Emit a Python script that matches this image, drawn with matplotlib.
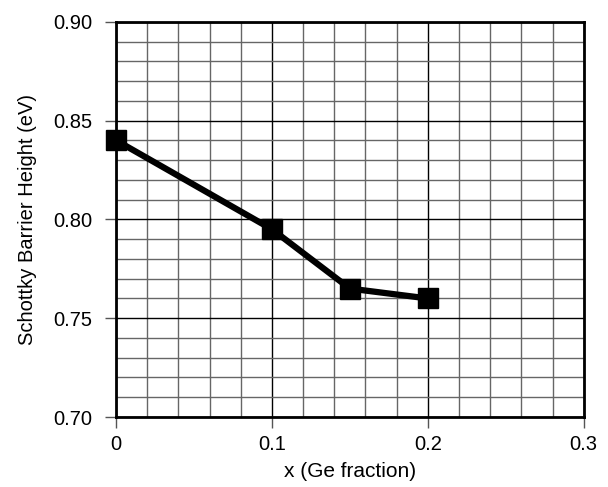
import matplotlib
matplotlib.use("Agg")
import matplotlib.pyplot as plt
import numpy as np

x_vals = [0.0, 0.1, 0.15, 0.2]
y_vals = [0.840, 0.795, 0.765, 0.760]
x_ticks = [0, 0.1, 0.2, 0.3]
x_tick_labels = ["0", "0.1", "0.2", "0.3"]
y_ticks = [0.70, 0.75, 0.80, 0.85, 0.90]
y_tick_labels = ["0.70", "0.75", "0.80", "0.85", "0.90"]

plt.rcParams['font.family'] = ['Liberation Sans', 'DejaVu Sans']

fig = plt.figure(figsize=(6.08, 4.87), dpi=100)
ax = fig.add_axes([0.191, 0.1437, 0.769, 0.8115])

ax.set_xlim(0, 0.3)
ax.set_ylim(0.70, 0.90)
ax.set_xticks(x_ticks)
ax.set_xticklabels(x_tick_labels)
ax.set_yticks(y_ticks)
ax.set_yticklabels(y_tick_labels)
ax.set_xticks(np.arange(0, 0.3001, 0.02), minor=True)
ax.set_yticks(np.arange(0.70, 0.9001, 0.01), minor=True)
ax.grid(True, which='major', color='black', linewidth=1.0)
ax.grid(True, which='minor', color='#666666', linewidth=1.0)
ax.tick_params(which='minor', length=0)
ax.tick_params(which='major', direction='out', length=8, width=1, color='#555555',
               labelsize=14.5)
ax.tick_params(axis='y', pad=9)
ax.tick_params(axis='x', pad=5)
ax.set_axisbelow(True)
for s in ax.spines.values():
    s.set_linewidth(2)
    s.set_color('black')

ax.plot(x_vals, y_vals, color='black', linewidth=4.5, marker='s', markersize=14,
        clip_on=False, zorder=5)

ax.set_xlabel("x (Ge fraction)", fontsize=15, labelpad=6)
ax.set_ylabel("Schottky Barrier Height (eV)", fontsize=14.5, labelpad=12)

fig.savefig("out.png", dpi=100)
